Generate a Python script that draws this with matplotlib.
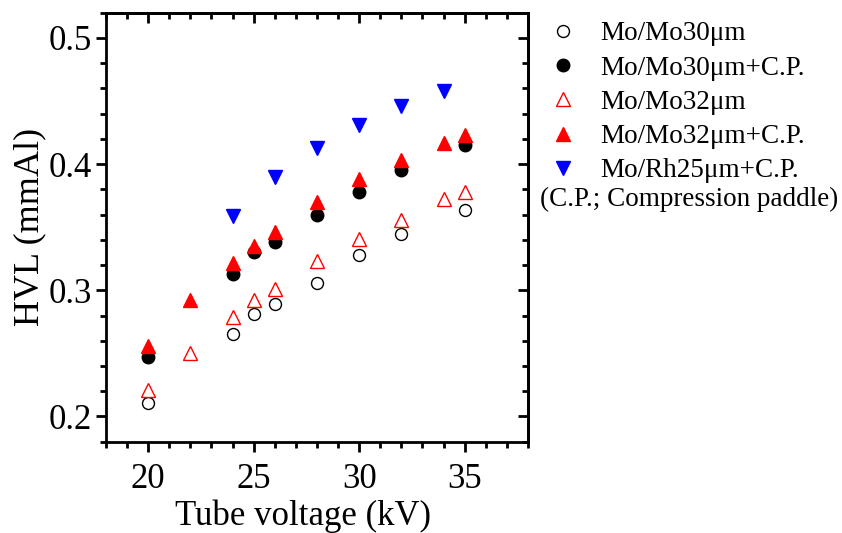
import matplotlib.pyplot as plt
from matplotlib.ticker import MultipleLocator

plt.rcParams['font.family'] = ['Liberation Serif', 'DejaVu Serif']

# HVL data
kv_mo30 = [20, 24, 25, 26, 28, 30, 32, 35]
hvl_mo30 = [0.211, 0.265, 0.281, 0.289, 0.306, 0.328, 0.345, 0.364]
hvl_mo30_cp = [0.247, 0.313, 0.330, 0.338, 0.360, 0.378, 0.395, 0.415]

kv_mo32 = [20, 22, 24, 25, 26, 28, 30, 32, 34, 35]
hvl_mo32 = [0.221, 0.250, 0.279, 0.292, 0.301, 0.323, 0.341, 0.356, 0.372, 0.378]
hvl_mo32_cp = [0.256, 0.292, 0.322, 0.335, 0.346, 0.370, 0.388, 0.403, 0.417, 0.423]

kv_rh25 = [24, 26, 28, 30, 32, 34]
hvl_rh25_cp = [0.359, 0.390, 0.413, 0.431, 0.446, 0.458]

fig = plt.figure(figsize=(8.42, 5.33), dpi=100)
ax = fig.add_axes([0.1259, 0.1713, 0.5011, 0.8049])

ax.plot(kv_mo30, hvl_mo30, 'o', ls='none', ms=8.6, mfc='white', mec='black', mew=1.0,
        label='Mo/Mo30μm')
ax.plot(kv_mo30, hvl_mo30_cp, 'o', ls='none', ms=9, mfc='black', mec='black',
        label='Mo/Mo30μm+C.P.')
ax.plot(kv_mo32, hvl_mo32, '^', ls='none', ms=10, mfc='white', mec='red', mew=1.0,
        label='Mo/Mo32μm')
ax.plot(kv_mo32, hvl_mo32_cp, '^', ls='none', ms=10, mfc='red', mec='red',
        label='Mo/Mo32μm+C.P.')
ax.plot(kv_rh25, hvl_rh25_cp, 'v', ls='none', ms=10, mfc='blue', mec='blue',
        label='Mo/Rh25μm+C.P.')

ax.set_xlim(18, 38)
ax.set_ylim(0.18, 0.52)
ax.xaxis.set_minor_locator(MultipleLocator(1))
ax.yaxis.set_major_locator(MultipleLocator(0.1))
ax.yaxis.set_minor_locator(MultipleLocator(0.02))
ax.set_xticks([20, 25, 30, 35])

for s in ax.spines.values():
    s.set_linewidth(2)
ax.tick_params(which='both', direction='out', width=2, labelsize=25, pad=3)
ax.tick_params(axis='x', which='both', pad=8)
ax.tick_params(which='major', length=7)
ax.tick_params(which='minor', length=4)

# mirrored ticks pointing inward on top and right
top = ax.secondary_xaxis('top')
top.set_xticks([20, 25, 30, 35])
top.xaxis.set_minor_locator(MultipleLocator(1))
top.tick_params(which='both', direction='in', width=2, labeltop=False)
top.tick_params(which='major', length=7)
top.tick_params(which='minor', length=4)
top.spines['top'].set_linewidth(2)

right = ax.secondary_yaxis('right')
right.yaxis.set_major_locator(MultipleLocator(0.1))
right.yaxis.set_minor_locator(MultipleLocator(0.02))
right.tick_params(which='both', direction='in', width=2, labelright=False)
right.tick_params(which='major', length=7)
right.tick_params(which='minor', length=4)
right.spines['right'].set_linewidth(2)

ax.set_xlabel('Tube voltage (kV)', fontsize=25, labelpad=2.5)
ax.xaxis.label.set_x(0.468)
ax.set_ylabel('HVL (mmAl)', fontsize=26, labelpad=2)

fig.legend(loc='upper left', bbox_to_anchor=(0.6397, 0.970), frameon=False, fontsize=19.5,
           handletextpad=0.67, labelspacing=0.34, borderaxespad=0.0, borderpad=0.2,
           handlelength=1.4)
fig.text(0.641, 0.625, '(C.P.; Compression paddle)', fontsize=19.5, va='center')

plt.savefig('out.png', dpi=100)
